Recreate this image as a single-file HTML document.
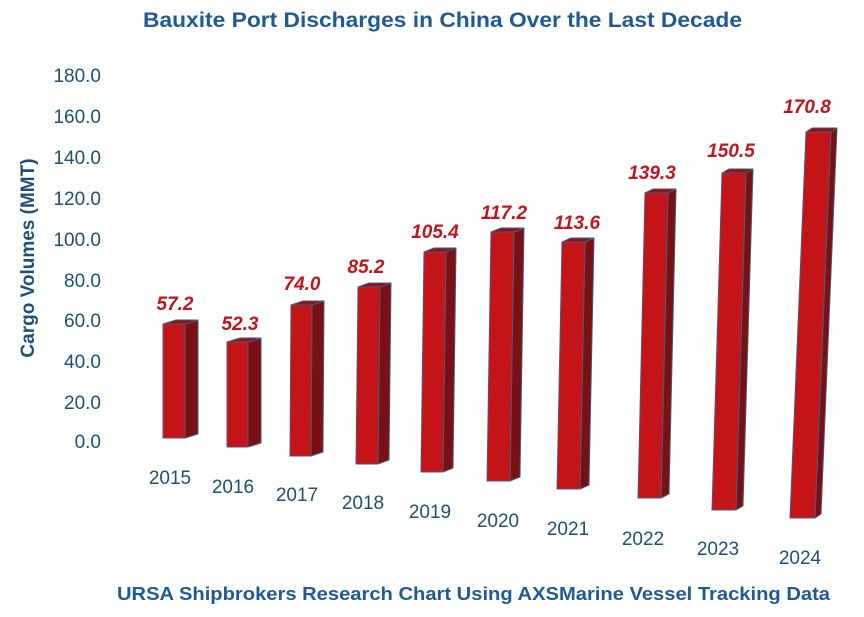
<!DOCTYPE html>
<html><head><meta charset="utf-8"><style>
html,body{margin:0;padding:0;background:#fff}
svg{display:block}
text{font-family:"Liberation Sans",sans-serif}
</style></head><body>
<svg width="864" height="617" viewBox="0 0 864 617" xmlns="http://www.w3.org/2000/svg">
<rect width="864" height="617" fill="#fff"/>
<text x="143" y="27" font-size="21" font-weight="bold" fill="#1f5a96" textLength="599" lengthAdjust="spacingAndGlyphs">Bauxite Port Discharges in China Over the Last Decade</text>
<text x="117" y="600" font-size="18" font-weight="bold" fill="#1f5a96" textLength="713" lengthAdjust="spacingAndGlyphs">URSA Shipbrokers Research Chart Using AXSMarine Vessel Tracking Data</text>
<text transform="translate(34,258) rotate(-90)" text-anchor="middle" font-size="19" font-weight="bold" fill="#1f4e79">Cargo Volumes (MMT)</text>
<g font-size="19" fill="#1f4e79" text-anchor="end">
<text x="101" y="82">180.0</text><text x="101" y="123">160.0</text><text x="101" y="164">140.0</text>
<text x="101" y="205">120.0</text><text x="101" y="246">100.0</text><text x="101" y="287">80.0</text>
<text x="101" y="327">60.0</text><text x="101" y="368">40.0</text><text x="101" y="409">20.0</text>
<text x="101" y="448">0.0</text>
</g>
<g stroke="#4a5a7a" stroke-width="1" stroke-linejoin="round" id="bars"></g>
<g font-size="19" fill="#1f4e79" text-anchor="middle">
<text x="170" y="484">2015</text><text x="233" y="493">2016</text><text x="297" y="501">2017</text>
<text x="363" y="509">2018</text><text x="430" y="518">2019</text><text x="498" y="527">2020</text>
<text x="568" y="535">2021</text><text x="643" y="545">2022</text><text x="718" y="555">2023</text>
<text x="800" y="564">2024</text>
</g>
<g font-size="19" font-weight="bold" font-style="italic" fill="#c0161b" text-anchor="middle">
<text x="175" y="310">57.2</text><text x="240" y="330">52.3</text><text x="302" y="290">74.0</text>
<text x="366" y="273">85.2</text><text x="435" y="238">105.4</text><text x="504" y="219">117.2</text>
<text x="577" y="229">113.6</text><text x="652" y="179">139.3</text><text x="731" y="157">150.5</text>
<text x="807" y="113">170.8</text>
</g>
</svg>
<script>
var B=[[163,185,324,438,0,13],[227,248,342,447,0,13],[291,312,305,456,1,12],[358,380,287,464,2,11],[424,446,252,472,3,10],[491,514,232,481,4,10],[562,585,242,489,5,9],[645,668,193,498,7,8],[722,746,173,510,10,7],[806,831,132,518,16,6]];
var g=document.getElementById('bars'),h='';
B.forEach(function(b){var fl=b[0],fr=b[1],t=b[2],bt=b[3],L=b[4],d=b[5],u=4;
function p(a,c){return '<polygon fill="'+c+'" points="'+a.map(function(q){return q.join(',')}).join(' ')+'"/>';}
h+=p([[fr,t],[fr+d,t-u],[fr+d-L,bt-u],[fr-L,bt]],'#7a1014');
h+=p([[fl,t],[fl+d,t-u],[fr+d,t-u],[fr,t]],'#8e1216');
h+=p([[fl,t],[fr,t],[fr-L,bt],[fl-L,bt]],'#c41418');});
g.innerHTML=h;
</script>
</body></html>
